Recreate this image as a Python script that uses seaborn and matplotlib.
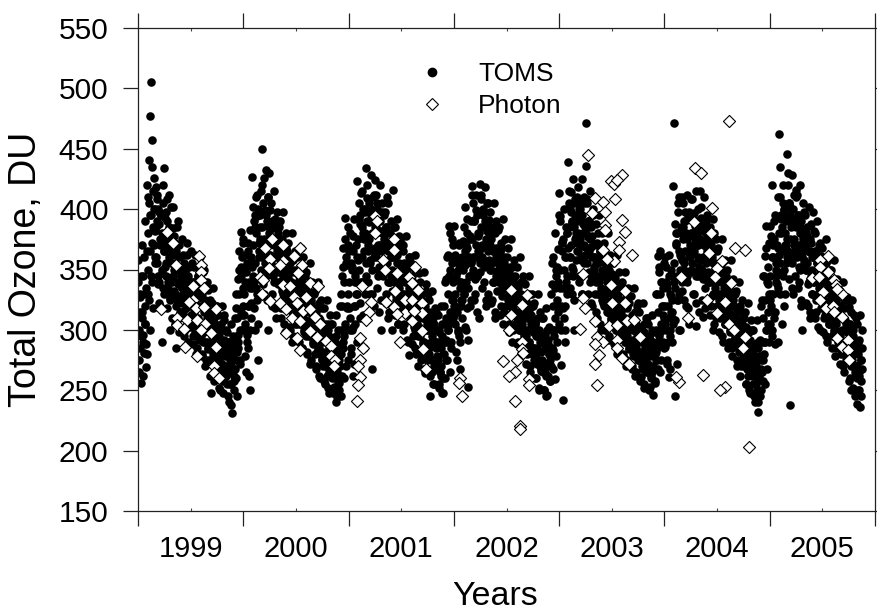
import numpy as np
import pandas as pd
import matplotlib
matplotlib.use("Agg")
import matplotlib.pyplot as plt
import seaborn as sns
from matplotlib.lines import Line2D

# ---------------- data ----------------
years = [1999, 2000, 2001, 2002, 2003, 2004, 2005]
year_labels = ["1999", "2000", "2001", "2002", "2003", "2004", "2005"]
y_ticks = [150, 200, 250, 300, 350, 400, 450, 500, 550]

# TOMS daily total ozone (DU); three interleaved samplings per year
toms_1999 = [
    358, 265, 327, 256, 310, 296, 345, 281, 320, 269,
    420, 330, 441, 477, 300, 505, 457, 385, 426, 355,
    418, 408, 390, 345, 398, 320, 375, 290, 405, 365,
    434, 393, 355, 408, 330, 385, 300, 362, 402, 340,
    402, 350, 372, 285, 385, 338, 310, 360, 328, 345,
    375, 330, 355, 300, 345, 318, 362, 290, 338, 325,
    365, 320, 340, 295, 352, 310, 330, 285, 345, 305,
    360, 305, 335, 280, 348, 298, 320, 275, 340, 290,
    333, 275, 310, 248, 322, 290, 300, 262, 318, 284,
    320, 265, 295, 250, 305, 272, 285, 258, 312, 278,
    300, 255, 280, 240, 290, 265, 270, 231, 295, 258,
    310, 260, 330, 245, 290, 350, 275, 381, 300, 320]
toms_1999_b = [
    300, 330, 285, 345, 315, 290, 360, 305, 335, 280,
    380, 350, 405, 365, 395, 340, 415, 370, 400, 360,
    385, 355, 400, 340, 375, 395, 350, 380, 335, 365,
    370, 345, 390, 335, 360, 380, 325, 355, 375, 345,
    355, 330, 365, 320, 350, 340, 370, 315, 345, 335,
    340, 315, 350, 325, 335, 305, 345, 320, 330, 310,
    330, 305, 340, 315, 325, 300, 335, 310, 320, 300,
    320, 295, 330, 305, 315, 290, 325, 300, 310, 285,
    305, 285, 315, 295, 300, 280, 310, 275, 295, 290,
    295, 275, 300, 280, 290, 265, 300, 285, 280, 270,
    280, 265, 290, 270, 275, 255, 285, 268, 278, 262,
    290, 275, 310, 285, 330, 300, 345, 315, 360, 335]
toms_1999_c = [
    340, 275, 315, 295, 370, 262, 330, 305, 390, 288,
    365, 410, 325, 395, 345, 435, 372, 318, 400, 382,
    360, 412, 338, 388, 322, 370, 395, 347, 420, 330,
    352, 398, 318, 376, 340, 412, 326, 368, 310, 384,
    332, 378, 305, 362, 325, 390, 298, 352, 336, 315,
    322, 362, 295, 348, 310, 372, 288, 338, 352, 302,
    312, 355, 288, 338, 298, 362, 280, 328, 345, 292,
    300, 342, 278, 326, 290, 350, 270, 318, 335, 284,
    288, 325, 262, 312, 276, 335, 258, 305, 320, 270,
    275, 312, 252, 300, 266, 320, 248, 292, 308, 262,
    262, 298, 245, 285, 255, 305, 238, 278, 292, 250,
    268, 318, 282, 342, 296, 365, 272, 352, 312, 372]
toms_2000 = [
    375, 300, 340, 265, 355, 285, 320, 250, 383, 310,
    427, 345, 390, 300, 410, 330, 394, 275, 365, 385,
    415, 450, 360, 426, 330, 399, 345, 390, 300, 430,
    399, 350, 384, 320, 372, 340, 392, 310, 360, 380,
    385, 340, 365, 310, 375, 330, 355, 298, 368, 345,
    365, 320, 350, 300, 340, 290, 358, 315, 335, 305,
    350, 305, 338, 290, 345, 315, 325, 285, 360, 300,
    345, 295, 330, 280, 320, 300, 338, 275, 310, 290,
    330, 280, 315, 268, 300, 285, 322, 260, 295, 275,
    318, 270, 300, 255, 290, 262, 305, 248, 285, 275,
    305, 260, 290, 253, 280, 240, 295, 265, 275, 250,
    320, 245, 345, 285, 368, 260, 393, 300, 354, 275]
toms_2000_b = [
    330, 305, 350, 290, 365, 320, 340, 300, 360, 335,
    370, 340, 395, 355, 380, 325, 400, 360, 375, 350,
    385, 360, 405, 375, 350, 395, 370, 410, 355, 380,
    375, 355, 390, 345, 370, 360, 385, 340, 365, 350,
    360, 340, 370, 335, 355, 345, 365, 325, 350, 340,
    345, 325, 355, 330, 340, 315, 350, 320, 335, 325,
    335, 315, 340, 320, 330, 305, 340, 310, 325, 315,
    320, 300, 330, 305, 315, 295, 325, 300, 310, 300,
    305, 290, 315, 295, 300, 285, 310, 280, 300, 290,
    295, 280, 300, 270, 290, 275, 300, 265, 285, 278,
    285, 270, 290, 262, 280, 268, 288, 258, 275, 270,
    300, 280, 320, 290, 340, 305, 355, 320, 370, 330]
toms_2000_c = [
    312, 362, 278, 348, 296, 372, 262, 335, 322, 356,
    352, 402, 318, 385, 335, 412, 305, 372, 395, 342,
    372, 420, 338, 398, 355, 432, 325, 386, 410, 362,
    362, 405, 330, 388, 348, 415, 318, 376, 398, 338,
    348, 390, 318, 372, 332, 398, 305, 362, 380, 326,
    332, 372, 302, 358, 318, 380, 295, 348, 365, 310,
    320, 360, 292, 345, 305, 368, 285, 335, 352, 298,
    308, 348, 282, 332, 295, 355, 272, 322, 340, 288,
    296, 332, 270, 318, 282, 340, 262, 308, 325, 276,
    282, 318, 258, 305, 270, 325, 252, 295, 312, 265,
    272, 305, 248, 292, 260, 312, 244, 285, 300, 256,
    280, 330, 262, 352, 295, 375, 270, 360, 318, 385]
toms_2001 = [
    365, 300, 380, 280, 350, 262, 392, 320, 340, 290,
    423, 340, 392, 310, 413, 360, 380, 285, 400, 330,
    434, 409, 370, 389, 330, 400, 350, 268, 392, 320,
    424, 380, 405, 345, 392, 315, 370, 300, 398, 355,
    395, 350, 385, 330, 410, 310, 372, 340, 360, 300,
    416, 370, 345, 385, 325, 362, 305, 378, 340, 318,
    372, 330, 365, 305, 350, 320, 340, 290, 355, 279,
    360, 310, 345, 295, 335, 285, 350, 300, 325, 270,
    347, 300, 330, 280, 320, 290, 310, 264, 338, 275,
    330, 280, 315, 245, 300, 265, 310, 255, 290, 272,
    315, 270, 300, 255, 290, 262, 305, 248, 280, 320,
    340, 275, 360, 300, 386, 265, 350, 290, 375, 310]
toms_2001_b = [
    340, 310, 355, 300, 365, 320, 345, 305, 370, 330,
    375, 350, 395, 360, 385, 340, 400, 365, 380, 355,
    390, 365, 405, 375, 355, 395, 380, 410, 360, 385,
    385, 360, 400, 370, 350, 390, 365, 380, 345, 375,
    370, 350, 385, 355, 365, 340, 380, 345, 360, 350,
    360, 340, 370, 345, 355, 330, 365, 335, 350, 340,
    345, 325, 355, 330, 340, 315, 350, 320, 335, 325,
    330, 310, 340, 315, 325, 300, 335, 305, 320, 310,
    315, 295, 325, 300, 310, 290, 320, 285, 305, 300,
    300, 285, 310, 290, 295, 275, 305, 270, 290, 285,
    290, 275, 300, 265, 285, 270, 295, 260, 280, 290,
    310, 290, 330, 300, 345, 315, 360, 325, 340, 320]
toms_2001_c = [
    318, 368, 285, 352, 302, 378, 272, 340, 330, 360,
    358, 405, 322, 388, 340, 415, 312, 375, 398, 345,
    375, 420, 340, 402, 358, 428, 330, 390, 412, 365,
    368, 412, 335, 395, 352, 420, 325, 382, 405, 358,
    355, 398, 322, 380, 340, 405, 315, 368, 390, 332,
    342, 385, 312, 368, 328, 392, 305, 355, 375, 320,
    330, 370, 300, 352, 315, 378, 292, 342, 360, 308,
    315, 355, 288, 340, 302, 362, 280, 330, 348, 295,
    302, 340, 275, 325, 288, 348, 268, 315, 332, 282,
    288, 325, 262, 310, 275, 332, 255, 300, 318, 268,
    278, 312, 252, 298, 265, 320, 248, 290, 305, 260,
    292, 342, 275, 362, 305, 380, 285, 355, 325, 370]
toms_2002 = [
    386, 320, 360, 275, 350, 300, 370, 290, 340, 310,
    374, 330, 402, 354, 300, 368, 253, 345, 320, 390,
    419, 412, 360, 391, 330, 399, 345, 380, 310, 365,
    421, 408, 370, 399, 340, 385, 320, 391, 355, 330,
    391, 350, 375, 325, 365, 340, 385, 310, 360, 345,
    383, 340, 365, 320, 372, 335, 355, 315, 350, 330,
    360, 330, 347, 305, 340, 320, 352, 300, 335, 315,
    345, 305, 335, 290, 325, 310, 340, 285, 320, 298,
    339, 295, 320, 280, 310, 290, 330, 270, 305, 285,
    320, 275, 305, 260, 295, 285, 310, 250, 290, 268,
    310, 265, 295, 250, 285, 245, 300, 272, 280, 258,
    330, 270, 355, 283, 300, 259, 345, 290, 367, 315]
toms_2002_b = [
    330, 305, 345, 315, 355, 295, 340, 320, 360, 325,
    350, 330, 365, 340, 380, 335, 360, 345, 375, 355,
    375, 350, 390, 360, 370, 345, 395, 365, 380, 355,
    385, 360, 400, 370, 355, 390, 375, 405, 365, 380,
    370, 350, 385, 355, 365, 340, 380, 345, 360, 350,
    355, 340, 365, 345, 350, 330, 360, 335, 345, 340,
    345, 325, 350, 330, 340, 315, 345, 320, 335, 325,
    330, 310, 335, 315, 325, 300, 330, 305, 320, 310,
    315, 295, 320, 300, 310, 290, 318, 285, 305, 298,
    300, 285, 305, 280, 295, 275, 300, 270, 290, 282,
    290, 272, 295, 265, 285, 270, 292, 262, 280, 275,
    300, 285, 320, 295, 335, 310, 350, 325, 340, 305]
toms_2002_c = [
    312, 362, 282, 348, 298, 372, 268, 335, 325, 355,
    335, 385, 302, 370, 318, 392, 292, 358, 378, 325,
    358, 405, 325, 390, 342, 412, 315, 378, 398, 348,
    368, 412, 335, 395, 352, 418, 325, 382, 405, 358,
    355, 398, 322, 380, 340, 405, 315, 368, 390, 332,
    342, 385, 312, 368, 328, 392, 305, 355, 375, 320,
    328, 368, 298, 352, 312, 375, 290, 340, 358, 305,
    315, 352, 288, 338, 300, 360, 280, 328, 345, 295,
    300, 338, 272, 322, 286, 345, 265, 312, 330, 280,
    285, 322, 260, 308, 272, 330, 252, 298, 315, 266,
    275, 310, 250, 296, 262, 318, 246, 288, 302, 258,
    285, 338, 268, 360, 300, 380, 278, 352, 320, 395]
toms_2003 = [
    413, 394, 271, 373, 242, 350, 320, 300, 385, 330,
    439, 405, 360, 414, 330, 389, 350, 300, 395, 377,
    410, 380, 394, 345, 370, 405, 330, 389, 355, 369,
    471, 436, 405, 377, 390, 340, 369, 320, 395, 360,
    371, 330, 355, 310, 380, 340, 365, 300, 345, 325,
    360, 320, 345, 300, 352, 315, 335, 295, 340, 310,
    346, 305, 330, 290, 343, 300, 320, 285, 335, 310,
    335, 295, 320, 280, 310, 290, 325, 275, 305, 285,
    322, 285, 305, 270, 300, 278, 315, 265, 295, 280,
    322, 275, 300, 261, 290, 268, 305, 255, 285, 270,
    310, 265, 295, 253, 285, 260, 300, 270, 280, 258,
    330, 275, 361, 290, 352, 265, 340, 300, 320, 285]
toms_2003_b = [
    350, 320, 365, 335, 375, 310, 360, 340, 380, 345,
    385, 360, 400, 370, 390, 345, 405, 375, 380, 365,
    390, 365, 400, 375, 360, 395, 380, 405, 370, 385,
    380, 355, 390, 365, 375, 345, 385, 360, 370, 350,
    360, 340, 370, 345, 355, 330, 365, 335, 350, 345,
    345, 325, 355, 330, 340, 315, 350, 320, 335, 325,
    330, 310, 340, 315, 325, 300, 335, 305, 320, 312,
    315, 300, 325, 305, 310, 292, 320, 295, 308, 300,
    305, 290, 310, 292, 300, 282, 308, 285, 298, 290,
    295, 280, 300, 282, 290, 272, 298, 275, 288, 280,
    288, 272, 295, 278, 282, 265, 290, 268, 280, 275,
    300, 285, 315, 295, 330, 305, 320, 290, 335, 310]
toms_2003_c = [
    335, 390, 300, 372, 318, 400, 290, 360, 345, 380,
    368, 415, 335, 398, 352, 425, 325, 385, 408, 358,
    372, 418, 340, 400, 358, 425, 330, 388, 410, 362,
    362, 408, 330, 390, 348, 415, 322, 378, 400, 352,
    345, 388, 315, 372, 330, 395, 305, 360, 380, 322,
    330, 372, 300, 355, 315, 380, 292, 345, 362, 308,
    315, 355, 288, 340, 300, 362, 280, 330, 348, 295,
    302, 340, 278, 325, 290, 348, 270, 318, 335, 284,
    290, 328, 268, 312, 280, 335, 262, 305, 320, 275,
    280, 315, 258, 302, 270, 322, 252, 295, 310, 265,
    272, 305, 250, 292, 262, 312, 246, 285, 298, 256,
    282, 330, 268, 348, 298, 365, 275, 340, 312, 355]
toms_2004 = [
    360, 286, 340, 272, 320, 261, 300, 350, 310, 290,
    419, 471, 245, 380, 272, 405, 330, 410, 300, 360,
    410, 385, 350, 398, 320, 375, 340, 392, 305, 365,
    408, 380, 355, 397, 330, 386, 303, 370, 345, 315,
    415, 382, 393, 350, 311, 370, 335, 390, 320, 360,
    385, 340, 372, 320, 360, 300, 380, 330, 350, 310,
    365, 330, 350, 310, 345, 295, 355, 320, 335, 305,
    345, 305, 330, 290, 319, 300, 340, 285, 325, 310,
    330, 290, 315, 275, 305, 285, 320, 270, 300, 280,
    310, 270, 295, 255, 285, 262, 300, 248, 280, 268,
    300, 255, 285, 240, 275, 250, 290, 232, 265, 245,
    320, 265, 345, 280, 361, 255, 386, 300, 352, 290]
toms_2004_b = [
    320, 300, 335, 310, 345, 295, 330, 315, 325, 305,
    355, 335, 370, 345, 380, 325, 365, 350, 385, 340,
    375, 355, 390, 365, 380, 345, 395, 360, 370, 350,
    380, 355, 390, 365, 375, 345, 385, 360, 370, 350,
    375, 350, 385, 360, 370, 345, 380, 355, 365, 340,
    360, 340, 370, 345, 355, 330, 365, 335, 350, 340,
    345, 325, 355, 330, 340, 315, 350, 320, 335, 325,
    330, 310, 335, 315, 325, 300, 330, 305, 320, 312,
    312, 295, 318, 300, 308, 288, 315, 290, 305, 298,
    295, 280, 300, 282, 290, 272, 298, 275, 288, 280,
    280, 265, 288, 270, 275, 258, 285, 262, 278, 268,
    290, 275, 310, 290, 325, 300, 340, 315, 330, 305]
toms_2004_c = [
    305, 352, 275, 338, 290, 362, 268, 328, 315, 345,
    340, 388, 308, 372, 325, 398, 300, 362, 380, 332,
    358, 405, 325, 390, 342, 412, 318, 378, 398, 348,
    362, 408, 330, 392, 348, 415, 322, 380, 400, 352,
    358, 402, 325, 388, 342, 410, 318, 375, 395, 348,
    342, 385, 312, 368, 328, 392, 305, 355, 375, 320,
    328, 368, 298, 352, 312, 375, 290, 340, 358, 305,
    312, 350, 285, 335, 298, 358, 278, 325, 342, 292,
    295, 332, 270, 318, 282, 340, 262, 308, 325, 276,
    278, 315, 255, 302, 268, 322, 250, 292, 308, 262,
    265, 300, 245, 288, 255, 308, 240, 278, 292, 250,
    275, 325, 258, 345, 290, 368, 268, 338, 305, 372]
toms_2005 = [
    386, 330, 420, 300, 370, 315, 395, 345, 360, 290,
    410, 462, 435, 380, 305, 405, 350, 399, 330, 370,
    446, 430, 405, 238, 395, 360, 391, 330, 375, 345,
    416, 410, 370, 391, 340, 385, 320, 360, 300, 378,
    398, 376, 350, 385, 320, 365, 340, 310, 372, 330,
    398, 360, 345, 380, 315, 355, 330, 370, 300, 340,
    361, 330, 350, 310, 340, 295, 355, 320, 335, 305,
    350, 310, 335, 295, 325, 300, 340, 285, 315, 290,
    335, 295, 320, 280, 310, 270, 325, 285, 300, 275,
    327, 280, 319, 260, 315, 250, 300, 270, 290, 245,
    310, 260, 239, 290, 250, 236, 275, 300]
toms_2005_b = [
    345, 320, 360, 330, 375, 315, 355, 340, 370, 335,
    380, 355, 395, 365, 385, 345, 400, 370, 390, 360,
    395, 365, 405, 375, 385, 355, 400, 370, 390, 360,
    385, 360, 395, 370, 380, 350, 390, 365, 375, 355,
    370, 350, 380, 355, 365, 340, 375, 345, 360, 350,
    360, 340, 365, 345, 355, 330, 360, 335, 350, 340,
    345, 325, 350, 330, 340, 315, 345, 320, 335, 325,
    330, 310, 335, 315, 325, 300, 330, 305, 320, 310,
    315, 295, 320, 300, 310, 290, 318, 285, 305, 298,
    300, 285, 305, 290, 295, 275, 300, 280, 292, 285,
    290, 270, 280, 265, 285, 258, 275, 268]
toms_2005_c = [
    325, 378, 295, 360, 310, 390, 288, 350, 338, 368,
    362, 410, 330, 392, 348, 420, 320, 380, 402, 355,
    375, 420, 342, 402, 360, 428, 335, 390, 412, 365,
    368, 412, 335, 395, 352, 420, 325, 382, 405, 358,
    352, 395, 322, 378, 338, 402, 315, 365, 388, 330,
    340, 382, 310, 365, 325, 390, 302, 352, 372, 318,
    328, 368, 298, 352, 312, 375, 290, 340, 358, 305,
    312, 350, 285, 335, 298, 358, 278, 325, 342, 292,
    296, 332, 272, 318, 284, 340, 265, 308, 325, 278,
    282, 318, 258, 305, 270, 325, 252, 295, 312, 265,
    270, 305, 250, 292, 262, 312, 245, 285]
# fraction of each year covered by the TOMS record
toms_span = [1.0, 1.0, 1.0, 1.0, 1.0, 1.0, 0.88]

# Photon (ground instrument) total ozone: decimal year and DU
photon_year = [
    1999.28, 1999.33, 1999.36, 1999.58, 1999.60, 1999.60, 1999.60, 1999.52, 1999.63, 1999.52,
    1999.48, 1999.55, 1999.63, 1999.74, 1999.22, 1999.37, 1999.47, 1999.56, 1999.64, 1999.37,
    1999.44, 1999.60, 1999.69, 1999.74, 1999.45, 1999.56, 1999.72, 1999.72, 1999.77,
    2000.27, 2000.38, 2000.54, 2000.21, 2000.48, 2000.25, 2000.38, 2000.35, 2000.56, 2000.16,
    2000.24, 2000.52, 2000.19, 2000.63, 2000.71, 2000.38, 2000.44, 2000.18, 2000.25, 2000.35,
    2000.48, 2000.60, 2000.51, 2000.41, 2000.57, 2000.63, 2000.46, 2000.54, 2000.68, 2000.73,
    2000.41, 2000.51, 2000.63, 2000.70, 2000.79, 2000.54, 2000.83, 2000.83, 2000.87, 2000.86,
    2001.25, 2001.27, 2001.25, 2001.43, 2001.43, 2001.33, 2001.35, 2001.46, 2001.63, 2001.57,
    2001.60, 2001.66, 2001.13, 2001.44, 2001.36, 2001.43, 2001.21, 2001.19, 2001.17, 2001.54,
    2001.60, 2001.70, 2001.70, 2001.54, 2001.62, 2001.46, 2001.60, 2001.70, 2001.11, 2001.14,
    2001.49, 2001.71, 2001.11, 2001.09, 2001.11, 2001.09, 2001.08, 2001.74,
    2002.54, 2002.69, 2002.65, 2002.54, 2002.52, 2002.65, 2002.65, 2002.66, 2002.60, 2002.47,
    2002.58, 2002.52, 2002.71, 2002.71, 2002.06, 2002.05, 2002.08, 2002.58, 2002.63, 2002.63,
    2003.27, 2003.49, 2003.52, 2003.60, 2003.55, 2003.34, 2003.42, 2003.53, 2003.31, 2003.44,
    2003.44, 2003.60, 2003.44, 2003.63, 2003.57, 2003.57, 2003.42, 2003.69, 2003.52, 2003.45,
    2003.23, 2003.49, 2003.63, 2003.23, 2003.25, 2003.50, 2003.63, 2003.34, 2003.47, 2003.55,
    2003.64, 2003.71, 2003.20, 2003.36, 2003.42, 2003.55, 2003.77, 2003.34, 2003.55, 2003.38,
    2003.60, 2003.34, 2003.66, 2003.36,
    2004.61, 2004.29, 2004.35, 2004.45, 2004.28, 2004.44, 2004.67, 2004.77, 2004.42, 2004.55,
    2004.50, 2004.48, 2004.16, 2004.63, 2004.40, 2004.58, 2004.50, 2004.22, 2004.61, 2004.66,
    2004.77, 2004.75, 2004.37, 2004.14, 2004.11, 2004.58, 2004.53, 2004.80,
    2005.55, 2005.48, 2005.48, 2005.55, 2005.40, 2005.47, 2005.61, 2005.63, 2005.69, 2005.51,
    2005.48, 2005.53, 2005.60, 2005.61, 2005.64, 2005.69, 2005.64, 2005.74, 2005.69, 2005.74,
    2005.75]
photon_du = [
    381, 372, 354, 361, 354, 348, 341, 336, 335, 325,
    323, 318, 319, 317, 317, 310, 308, 308, 305, 304,
    301, 300, 297, 286, 286, 278, 270, 264, 260,
    375, 370, 368, 368, 361, 359, 357, 354, 354, 344,
    351, 347, 341, 339, 336, 337, 336, 330, 324, 322,
    327, 327, 322, 317, 316, 317, 310, 307, 311, 305,
    297, 293, 299, 294, 291, 283, 287, 278, 275, 270,
    394, 390, 380, 375, 366, 358, 350, 347, 352, 344,
    339, 333, 336, 332, 323, 319, 323, 315, 308, 325,
    325, 322, 314, 314, 316, 313, 307, 299, 293, 285,
    290, 284, 275, 270, 261, 254, 241, 268,
    333, 329, 321, 312, 300, 290, 284, 281, 275, 274,
    265, 262, 259, 254, 260, 256, 245, 241, 220, 218,
    445, 423, 421, 428, 424, 409, 406, 408, 397, 398,
    387, 391, 383, 381, 373, 366, 366, 362, 357, 359,
    346, 337, 332, 326, 318, 322, 322, 307, 303, 304,
    307, 308, 301, 294, 290, 292, 294, 288, 285, 279,
    277, 272, 272, 254,
    473, 434, 430, 401, 389, 380, 368, 366, 364, 357,
    351, 344, 344, 339, 325, 323, 314, 310, 305, 300,
    294, 285, 263, 257, 261, 253, 250, 203,
    361, 358, 352, 348, 343, 344, 341, 337, 330, 331,
    325, 318, 320, 315, 334, 311, 293, 292, 286, 283,
    275]

# ---------------- tables ----------------
toms_a = [toms_1999, toms_2000, toms_2001, toms_2002, toms_2003, toms_2004, toms_2005]
toms_b = [toms_1999_b, toms_2000_b, toms_2001_b, toms_2002_b, toms_2003_b, toms_2004_b, toms_2005_b]
toms_c = [toms_1999_c, toms_2000_c, toms_2001_c, toms_2002_c, toms_2003_c, toms_2004_c, toms_2005_c]
rows = []
for lists, phase in ((toms_a, 0.17), (toms_c, 0.5), (toms_b, 0.83)):
    for yr, vals, span in zip(years, lists, toms_span):
        n = len(vals)
        for i, v in enumerate(vals):
            rows.append((yr + (i + phase) / n * span, v))
toms_df = pd.DataFrame(rows, columns=["year", "du"])
photon_df = pd.DataFrame({"year": photon_year, "du": photon_du})

# ---------------- style ----------------
sns.set_style("ticks")
plt.rcParams['font.family'] = ['Liberation Sans', 'DejaVu Sans']
plt.rcParams['axes.linewidth'] = 0.9
plt.rcParams['axes.edgecolor'] = '#222222'
for key in ('text.color', 'axes.labelcolor', 'xtick.color', 'ytick.color'):
    plt.rcParams[key] = 'black'

fig = plt.figure(figsize=(8.77, 6.15), dpi=100)
ax = fig.add_axes([138 / 877, 1 - 511 / 615, (875 - 138) / 877, (511 - 28) / 615])

sns.scatterplot(data=toms_df, x="year", y="du", ax=ax, marker="o", s=38,
                color="black", edgecolor="black", linewidth=0, zorder=2, legend=False)
sns.scatterplot(data=photon_df, x="year", y="du", ax=ax, marker="D", s=38,
                color="white", edgecolor="black", linewidth=0.8, zorder=3, legend=False)

ax.set_xlim(1999, 2006)
ax.set_ylim(150, 550)

ax.set_xticks(list(range(1999, 2007)))
ax.set_xticklabels([])
ax.set_xticks([y + 0.5 for y in years], minor=True)
ax.set_xticklabels(year_labels, minor=True)
ax.tick_params(axis='x', which='major', direction='out', length=10.8, width=0.9,
               top=True, bottom=True, color='#222222')
ax.tick_params(axis='x', which='minor', direction='in', length=2.5, width=0.8,
               top=True, bottom=True, labelsize=21, pad=17, color='#444444')

ax.set_yticks(y_ticks)
ax.set_yticklabels([str(v) for v in y_ticks])
ax.tick_params(axis='y', which='major', direction='out', length=10.8, width=0.9,
               left=True, right=True, labelsize=21.5, pad=10.5, color='#222222')

ax.set_xlabel("Years", fontsize=24.5)
ax.xaxis.set_label_coords(0.484, -0.144)
ax.set_ylabel("Total Ozone, DU", fontsize=27)
ax.yaxis.set_label_coords(-0.128, 0.5)

handles = [
    Line2D([], [], linestyle='none', marker='o', markersize=6.0,
           markerfacecolor='black', markeredgecolor='black'),
    Line2D([], [], linestyle='none', marker='D', markersize=6.2,
           markerfacecolor='white', markeredgecolor='black', markeredgewidth=0.8),
]
ax.legend(handles, ["TOMS", "Photon"], loc='upper left',
          bbox_to_anchor=(418.8 / 877, 1 - 62 / 615), bbox_transform=fig.transFigure,
          frameon=False, fontsize=19, handlelength=1.0, handletextpad=1.24,
          borderpad=0, borderaxespad=0, labelspacing=0.3)

fig.savefig("out.png", dpi=100)
